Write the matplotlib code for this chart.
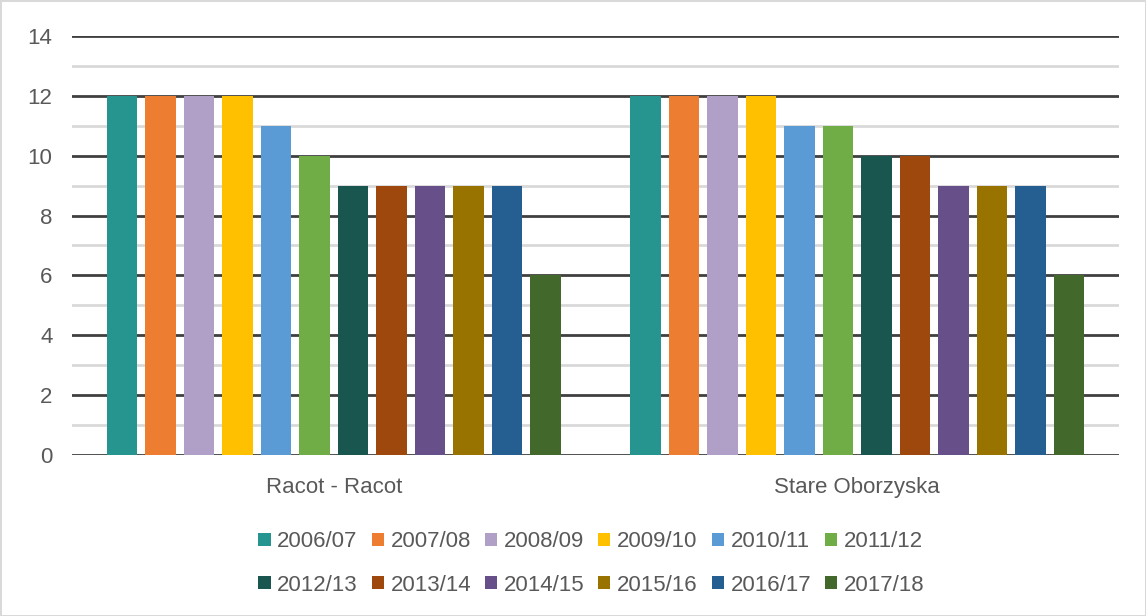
import numpy as np
import matplotlib.pyplot as plt
from matplotlib.ticker import MultipleLocator

plt.rcParams['font.family'] = ['Liberation Sans', 'DejaVu Sans']

categories = ['Racot - Racot', 'Stare Oborzyska']
seasons = ['2006/07', '2007/08', '2008/09', '2009/10', '2010/11', '2011/12',
           '2012/13', '2013/14', '2014/15', '2015/16', '2016/17', '2017/18']
racot = [12, 12, 12, 12, 11, 10, 9, 9, 9, 9, 9, 6]
stare = [12, 12, 12, 12, 11, 11, 10, 10, 9, 9, 9, 6]
colors = ['#269590', '#ED7D31', '#B0A0C8', '#FFC000', '#5B9BD5', '#70AD47',
          '#1A5650', '#9E480E', '#674F8A', '#997300', '#255E91', '#43682B']

values = np.array([racot, stare])  # shape (2 categories, 12 seasons)

fig = plt.figure(figsize=(11.46, 6.16), dpi=100, edgecolor='#d9d9d9', linewidth=2)
ax = fig.add_axes([0.0628, 0.2614, 0.9136, 0.6802])

x = np.arange(len(categories))
slot = 0.0735
width = 0.058
n = len(seasons)
bars = []
for i in range(n):
    off = (i - (n - 1) / 2) * slot
    bars.append(ax.bar(x + off, values[:, i], width, color=colors[i],
                       label=seasons[i], zorder=3))

ax.set_xlim(-0.5, 1.5)
ax.set_ylim(0, 14)
ax.yaxis.set_major_locator(MultipleLocator(2))
ax.yaxis.set_minor_locator(MultipleLocator(1))
ax.grid(axis='y', which='major', color='#404040', linewidth=2, zorder=0)
ax.grid(axis='y', which='minor', color='#d9d9d9', linewidth=2, zorder=0)
ax.set_axisbelow(True)
for s in ax.spines.values():
    s.set_visible(False)
ax.set_xticks(x)
ax.set_xticklabels(categories)
ax.tick_params(axis='both', which='both', length=0, labelsize=16, colors='#595959')
ax.tick_params(axis='x', pad=16)
ax.tick_params(axis='y', pad=14)

# legend fills row by row: reorder for matplotlib's column-major layout
ncol = 6
order = [r * ncol + c for c in range(ncol) for r in range(2)]
fig.legend([bars[k] for k in order], [seasons[k] for k in order],
           loc='upper center', bbox_to_anchor=(0.516, 0.17), ncol=ncol, frameon=False,
           fontsize=16, labelcolor='#595959', handlelength=0.55, handleheight=0.55,
           handletextpad=0.3, columnspacing=0.62, labelspacing=1.0)

fig.savefig('out.png', dpi=100)
